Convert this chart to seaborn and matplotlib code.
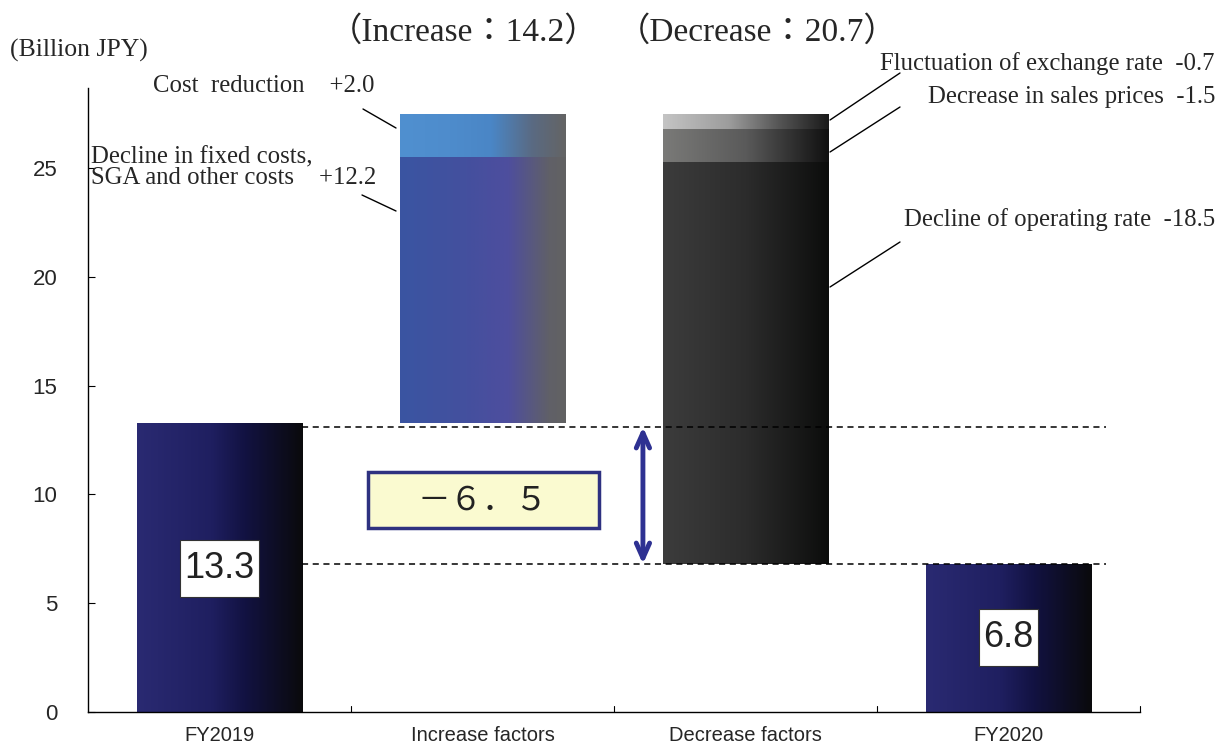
import numpy as np
import pandas as pd
import matplotlib
matplotlib.use("Agg")
import matplotlib.pyplot as plt
import seaborn as sns
from matplotlib.colors import LinearSegmentedColormap
from matplotlib.patches import Rectangle

# ---------------- data ----------------
categories = ["FY2019", "Increase factors", "Decrease factors", "FY2020"]
totals = [13.3, None, None, 6.8]
increase_items = ["Decline in fixed costs,\nSGA and other costs", "Cost  reduction"]
increase_values = [12.2, 2.0]
decrease_items = ["Fluctuation of exchange rate", "Decrease in sales prices", "Decline of operating rate"]
decrease_values = [0.7, 1.5, 18.5]
increase_total = 14.2
decrease_total = 20.7
difference_label = "－６．５"
guide_levels = [13.1, 6.8]
yticks = [0, 5, 10, 15, 20, 25]

# ---------------- style ----------------
sns.set_theme(style="white")
SERIF = ["Liberation Serif", "Noto Sans CJK JP", "DejaVu Serif"]
SANS = ["Liberation Sans", "DejaVu Sans"]
plt.rcParams["font.family"] = SANS

fig = plt.figure(figsize=(12.2, 7.49), dpi=100)
ax = fig.add_axes([88 / 1220, 1 - 712 / 749, (1140 - 88) / 1220, (712 - 88) / 749])

W = 0.63
df_tot = pd.DataFrame({"category": [categories[0], categories[3]],
                       "value": [totals[0], totals[3]]})
df_tot["category"] = pd.Categorical(df_tot["category"], categories=categories)

sns.barplot(data=df_tot, x="category", y="value", order=categories,
            width=W, color="#1e1e5e", ax=ax, saturation=1)


def gradient(ax, patch, stops):
    cmap = LinearSegmentedColormap.from_list("g", stops)
    x0, y0 = patch.get_x(), patch.get_y()
    w, h = patch.get_width(), patch.get_height()
    grad = np.linspace(0, 1, 256).reshape(1, -1)
    im = ax.imshow(grad, cmap=cmap, aspect="auto",
                   extent=[x0, x0 + w, y0, y0 + h], zorder=2, interpolation="bicubic")
    im.set_clip_path(patch)
    patch.set_facecolor("none")
    patch.set_edgecolor("none")


navy_stops = [(0, "#2a2a72"), (0.45, "#1f1f60"), (0.65, "#121242"), (1, "#0a0a0c")]
for p in list(ax.patches):
    if p.get_height() > 0:
        gradient(ax, p, navy_stops)

# increase segments
inc_stops = [[(0, "#3a55a2"), (0.4, "#44509e"), (0.65, "#4e4e9e"), (0.9, "#606068"), (1, "#626262")],
             [(0, "#5090d0"), (0.3, "#4e8ccc"), (0.55, "#4a86c6"), (0.8, "#5a6a82"), (1, "#646464")]]
bottom = totals[0]
for v, st in zip(increase_values, inc_stops):
    b = ax.bar(1, v, bottom=bottom, width=W, zorder=2)[0]
    gradient(ax, b, st)
    bottom += v

# decrease segments (from top down)
dec_stops = [[(0, "#c4c4c4"), (0.4, "#9c9c9c"), (0.7, "#555555"), (1, "#1a1a1a")],
             [(0, "#7a7a78"), (0.5, "#5a5a5a"), (1, "#101010")],
             [(0, "#3c3c3c"), (0.5, "#2c2c2c"), (1, "#0c0d0c")]]
top = totals[0] + increase_total
for v, st in zip(decrease_values, dec_stops):
    b = ax.bar(2, v, bottom=top - v, width=W, zorder=2)[0]
    gradient(ax, b, st)
    top -= v

# ---------------- axes ----------------
ax.set_xlim(-0.5, 3.5)
ax.set_ylim(0, 28.68)
ax.set_yticks(yticks)
ax.set_yticklabels([str(t) for t in yticks], fontsize=16, family=SANS)
ax.set_xticks(range(4))
ax.set_xticklabels(categories, fontsize=14.5, family=SANS)
ax.tick_params(axis="x", length=0, pad=10)
ax.tick_params(axis="y", direction="in", length=5, width=0.8, color="black", pad=22, left=True)
for x in [0.5, 1.5, 2.5, 3.5]:
    ax.plot([x, x], [0, 0.28], color="black", lw=0.8, clip_on=False, zorder=3)
ax.set_xlabel("")
ax.set_ylabel("")
for s in ["top", "right"]:
    ax.spines[s].set_visible(False)
for s in ["left", "bottom"]:
    ax.spines[s].set_color("black")
    ax.spines[s].set_linewidth(1.0)

# guide lines
for lvl in guide_levels:
    ax.plot([0.315, 3.37], [lvl, lvl], ls=(0, (4, 3)), color="black", lw=1.1, zorder=3)

# arrow
ax.annotate("", xy=(1.61, guide_levels[1]), xytext=(1.61, guide_levels[0]),
            arrowprops=dict(arrowstyle="<->,head_length=0.9,head_width=0.4", color="#2e3192",
                            lw=3.5, shrinkA=0, shrinkB=0, capstyle="round", joinstyle="round"),
            zorder=4)

# difference box
ax.add_patch(Rectangle((0.564, 8.46), 0.879, 2.57, fc="#fafad0", ec="#2e3180", lw=2.5, zorder=4))
ax.text(1.0, 9.72, difference_label, ha="center", va="center", fontsize=23.5,
        family=["Noto Sans CJK JP", "DejaVu Sans"], color="#222222", zorder=5)

# value boxes
box_specs = [(0, totals[0], 6.6, 0.30), (3, totals[3], 3.42, 0.225)]
for i, val, yc, bw in box_specs:
    ax.add_patch(Rectangle((i - bw / 2, yc - 1.31), bw, 2.62, fc="white", ec="#333333",
                           lw=0.8, zorder=4))
    ax.text(i, yc, f"{val}", ha="center", va="center", fontsize=26,
            family=SANS, color="#222222", zorder=5)

# ---------------- annotations ----------------
def px(x, y):
    return (x / 1220, 1 - y / 749)


fig.text(*px(10, 50), "(Billion JPY)", fontsize=18.5, family=SERIF, va="center", ha="left")
fig.text(*px(464, 32), f"（Increase：{increase_total}）", fontsize=24,
         family=SERIF, ha="center", va="center")
fig.text(*px(757, 32), f"（Decrease：{decrease_total}）", fontsize=24,
         family=SERIF, ha="center", va="center")

FS = 17.8
fig.text(*px(153, 86), f"{increase_items[1]}    +{increase_values[1]}", fontsize=FS,
         family=SERIF, ha="left", va="center")
fig.text(*px(91, 157), increase_items[0].split("\n")[0], fontsize=FS, family=SERIF,
         ha="left", va="center")
fig.text(*px(91, 178), increase_items[0].split("\n")[1] + f"    +{increase_values[0]}", fontsize=FS,
         family=SERIF, ha="left", va="center")

fig.text(*px(1215, 64), f"{decrease_items[0]}  -{decrease_values[0]}", fontsize=FS,
         family=SERIF, ha="right", va="center")
fig.text(*px(1215, 97), f"{decrease_items[1]}  -{decrease_values[1]}", fontsize=FS,
         family=SERIF, ha="right", va="center")
fig.text(*px(1215, 220), f"{decrease_items[2]}  -{decrease_values[2]}", fontsize=FS,
         family=SERIF, ha="right", va="center")

leader = [((363, 109), (396, 128)), ((362, 195), (396, 211)),
          ((900, 73), (830, 120)), ((900, 107), (830, 152)), ((900, 242), (830, 287))]
for (a, b) in leader:
    fig.add_artist(plt.Line2D([a[0] / 1220, b[0] / 1220], [1 - a[1] / 749, 1 - b[1] / 749],
                              color="black", lw=1.0))

fig.savefig("out.png", dpi=100)
